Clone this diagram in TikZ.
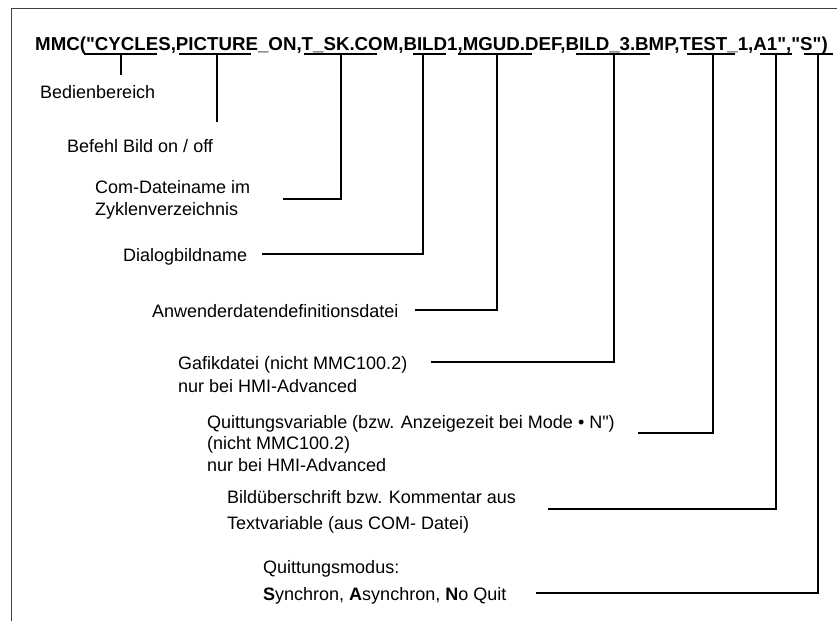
\documentclass[tikz,border=0pt]{standalone}
\usepackage{fontspec}
\setmainfont{Liberation Sans}[Ligatures=TeXOff]
\newcommand\dq{\char"22\relax}
\begin{document}
\begin{tikzpicture}[x=1pt,y=-1pt,
  lbl/.style={anchor=base west,inner sep=0pt,font=\fontsize{18}{22}\selectfont},
  ttl/.style={anchor=base west,inner sep=0pt,font=\fontsize{18.7}{22}\selectfont\bfseries},
  conn/.style={line width=1.4pt},
  uline/.style={line width=1.4pt},
  frame/.style={line width=1pt,draw=black!75}]
\useasboundingbox (0,0) rectangle (837,621);
% frame
\coordinate (fa) at (11,621);
\coordinate (fb) at (11,8);
\coordinate (fc) at (837,8);
\draw[frame] (fa) -- (fb) -- (fc);
% title
\node[ttl] (title) at (35,50) {MMC(\dq CYCLES,PICTURE\_ON,T\_SK.COM,BILD1,MGUD.DEF,BILD\_3.BMP,TEST\_1,A1\dq,\dq S\dq)};
% underlines
\foreach \a/\b/\n in {84/157/1,179/251/2,304/377/3,413/446/4,458/532/5,576/650/6,687/735/7,760/792/8,804/833/9}{
  \coordinate (ul\n) at (\a,54);
  \coordinate (ur\n) at (\b,54);
  \draw[uline] (ul\n) -- (ur\n);
}
\coordinate (t1) at (121,54);
\coordinate (t2) at (217,54);
\coordinate (t3) at (341,54);
\coordinate (t4) at (423,54);
\coordinate (t5) at (497,54);
\coordinate (t6) at (614,54);
\coordinate (t7) at (713,54);
\coordinate (t8) at (776,54);
\coordinate (t9) at (818,54);
% labels
\node[lbl] (l1) at (40,98) {Bedienbereich};
\node[lbl] (l2) at (67,152) {Befehl Bild on / off};
\node[lbl] (l3a) at (95,193) {Com-Dateiname im};
\node[lbl] (l3b) at (95,215) {Zyklenverzeichnis};
\node[lbl] (l4) at (123,261) {Dialogbildname};
\node[lbl] (l5) at (152,317) {Anwenderdatendefinitionsdatei};
\node[lbl] (l6a) at (178,369) {Gafikdatei (nicht MMC100.2)};
\node[lbl] (l6b) at (178,392) {nur bei HMI-Advanced};
\node[lbl] (l7a) at (207,428) {Quittungsvariable (bzw. Anzeigezeit bei Mode • N\dq)};
\node[lbl] (l7b) at (207,449) {(nicht MMC100.2)};
\node[lbl] (l7c) at (207,471) {nur bei HMI-Advanced};
\node[lbl] (l8a) at (227,503) {Bildüberschrift bzw. Kommentar aus};
\node[lbl] (l8b) at (227,529) {Textvariable (aus COM- Datei)};
\node[lbl] (l9a) at (263,573) {Quittungsmodus:};
\node[lbl] (l9b) at (263,600) {\textbf{S}ynchron, \textbf{A}synchron, \textbf{N}o Quit};
% connector ends
\coordinate (e1) at (121,75);
\coordinate (e2) at (217,122);
\coordinate (e3) at (283,199);
\coordinate (e4) at (262,254);
\coordinate (e5) at (415,310);
\coordinate (e6) at (431,362);
\coordinate (e7) at (638,433);
\coordinate (e8) at (548,509);
\coordinate (e9) at (536,593);
\draw[conn] (t1) -- (e1);
\draw[conn] (t2) -- (e2);
\draw[conn] (t3) |- (e3);
\draw[conn] (t4) |- (e4);
\draw[conn] (t5) |- (e5);
\draw[conn] (t6) |- (e6);
\draw[conn] (t7) |- (e7);
\draw[conn] (t8) |- (e8);
\draw[conn] (t9) |- (e9);
\end{tikzpicture}
\end{document}
